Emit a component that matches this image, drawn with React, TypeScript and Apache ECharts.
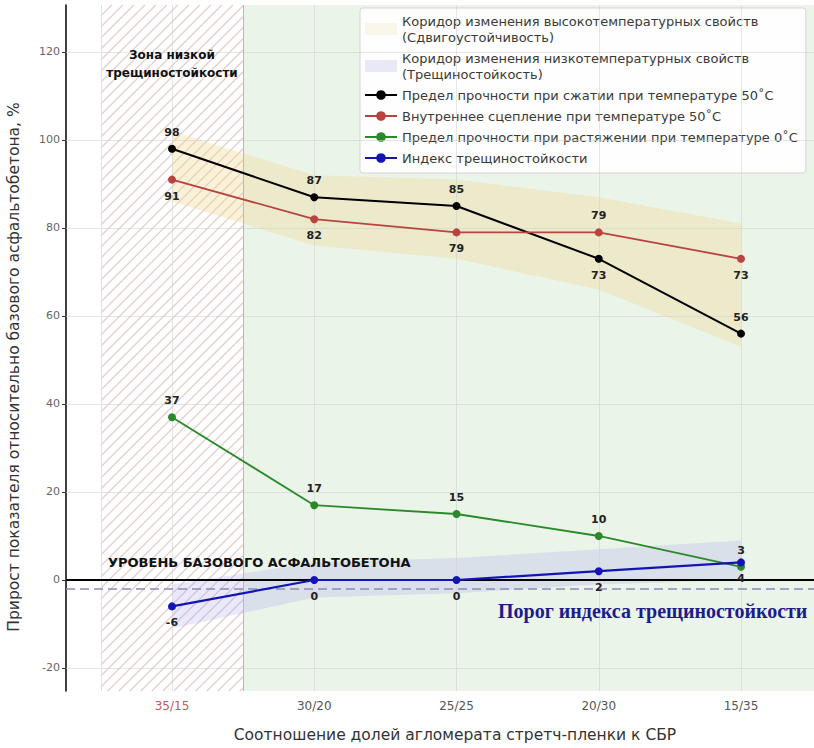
import React, { useEffect, useRef } from 'react';
import * as echarts from 'echarts';

const categories = ['35/15', '30/20', '25/25', '20/30', '15/35'];
const compression50 = [98, 87, 85, 73, 56];
const cohesion50 = [91, 82, 79, 79, 73];
const tensile0 = [37, 17, 15, 10, 3];
const crackIndex = [-6, 0, 0, 2, 4];
const highCorridorUpper = [102, 92, 91, 87, 81];
const highCorridorLower = [86, 76, 73, 66, 53];
const lowCorridorUpper = [-1, 4, 5, 7, 9];
const lowCorridorLower = [-11, -4, -3, -1, 0];
const yTicks = [-20, 0, 20, 40, 60, 80, 100, 120];
const xTicks = [0, 1, 2, 3, 4];
const compressionLabelPos = ['top', 'top', 'top', 'bottom', 'top'];
const cohesionLabelPos = ['bottom', 'bottom', 'bottom', 'top', 'bottom'];
const tensileLabelPos = ['top', 'top', 'top', 'top', 'top'];
const crackLabelPos = ['bottom', 'bottom', 'bottom', 'bottom', 'bottom'];
const baseLevel = 0;
const crackThreshold = -2;
const lowZone = [-0.5, 0.5];

const X_MIN = -0.745;
const X_MAX = 4.513;
const Y_MIN = -25.23;
const Y_MAX = 130.68;

const NAME_HIGH = 'Коридор изменения высокотемпературных свойств\n(Сдвигоустойчивость)';
const NAME_LOW = 'Коридор изменения низкотемпературных свойств\n(Трещиностойкость)';
const NAME_COMP = 'Предел прочности при сжатии при температуре 50˚C';
const NAME_COH = 'Внутреннее сцепление при температуре 50˚C';
const NAME_TENS = 'Предел прочности при растяжении при температуре 0˚C';
const NAME_CRACK = 'Индекс трещиностойкости';

const FONT = 'DejaVu Sans';

function bandSeries(name: string, upper: number[], lower: number[], color: string, z: number) {
  return {
    name,
    type: 'custom',
    z,
    silent: true,
    itemStyle: { color },
    data: upper.map((v, i) => [i, lower[i], v]),
    encode: { x: 0, y: [1, 2] },
    renderItem: (params: any, api: any) => {
      if (params.dataIndex !== 0) return null;
      const top = upper.map((v, i) => api.coord([i, v]));
      const bottom = lower.map((v, i) => api.coord([i, v])).reverse();
      return {
        type: 'polygon',
        shape: { points: [...top, ...bottom] },
        style: { fill: color },
        silent: true,
      };
    },
  };
}

function lineSeries(name: string, values: number[], color: string, positions: string[], width: number) {
  return {
    name,
    type: 'line',
    z: 5,
    symbol: 'circle',
    symbolSize: 8,
    itemStyle: { color },
    lineStyle: { color, width },
    data: values.map((v, i) => ({
      value: [i, v],
      label: { position: positions[i] },
    })),
    label: {
      show: true,
      distance: 7,
      fontSize: 11,
      fontWeight: 'bold',
      color: '#222',
      fontFamily: FONT,
      formatter: (p: any) => String(p.value[1]),
    },
  };
}

export default function App() {
  const ref = useRef<HTMLDivElement>(null);
  useEffect(() => {
    if (!ref.current) return;
    const chart = echarts.init(ref.current, null, { renderer: 'svg' });

    const hatchSeries = {
      type: 'custom',
      z: 1,
      silent: true,
      data: [[lowZone[0], Y_MIN]],
      encode: { x: 0, y: 1 },
      renderItem: (params: any, api: any) => {
        const p1 = api.coord([lowZone[0], Y_MAX]);
        const p2 = api.coord([lowZone[1], Y_MIN]);
        const x1 = p1[0], y1 = p1[1], x2 = p2[0], y2 = p2[1];
        const children: any[] = [];
        const step = 11;
        for (let c = x1 + y1; c <= x2 + y2; c += step) {
          const xa = Math.max(x1, c - y2);
          const xb = Math.min(x2, c - y1);
          if (xb <= xa) continue;
          children.push({
            type: 'line',
            shape: { x1: xa, y1: c - xa, x2: xb, y2: c - xb },
            style: { stroke: '#e4cdcd', lineWidth: 1.2 },
            silent: true,
          });
        }
        return { type: 'group', children };
      },
    };

    const bgSeries = {
      type: 'line',
      z: 0,
      silent: true,
      data: [],
      markArea: {
        silent: true,
        itemStyle: { color: '#ebf4e9' },
        data: [[{ xAxis: lowZone[1] }, { xAxis: X_MAX }]],
      },
      markLine: {
        silent: true,
        symbol: 'none',
        label: { show: false },
        lineStyle: { color: 'rgba(205,210,205,0.55)', width: 1, type: 'solid' },
        data: [
          ...xTicks.map((v) => ({ xAxis: v })),
          ...yTicks.map((v) => ({ yAxis: v })),
          { xAxis: lowZone[0], lineStyle: { color: '#e2e2e2', width: 1, type: 'solid' } },
          { xAxis: lowZone[1], lineStyle: { color: '#b8b8b8', width: 1, type: 'solid' } },
        ],
      },
    };

    const refSeries = {
      type: 'line',
      z: 3,
      silent: true,
      data: [],
      markLine: {
        silent: true,
        symbol: 'none',
        label: { show: false },
        data: [
          { yAxis: baseLevel, lineStyle: { color: '#000', width: 2, type: 'solid' } },
          { yAxis: crackThreshold, lineStyle: { color: '#8a8ab4', width: 1.5, type: [9, 5] } },
        ],
      },
    };

    chart.setOption({
      animation: false,
      textStyle: { fontFamily: FONT },
      grid: { left: 66, right: 0, top: 5, bottom: 57, containLabel: false },
      xAxis: {
        type: 'value',
        min: X_MIN,
        max: X_MAX,
        splitLine: { show: false },
        axisLine: { show: true, lineStyle: { color: '#444', width: 1 } },
        axisTick: { show: true, customValues: xTicks, length: 4, lineStyle: { color: '#444' } },
        axisLabel: {
          customValues: xTicks,
          formatter: (v: number) => categories[Math.round(v)] ?? '',
          color: (v: any) => (Math.round(Number(v)) === 0 ? '#c25a57' : '#555'),
          fontSize: 12,
          margin: 9,
          fontFamily: FONT,
        },
      },
      yAxis: {
        type: 'value',
        min: Y_MIN,
        max: Y_MAX,
        splitLine: { show: false },
        axisLine: { show: true, onZero: false, lineStyle: { color: '#000', width: 1.5 } },
        axisTick: { show: true, customValues: yTicks, length: 4, lineStyle: { color: '#333' } },
        axisLabel: { customValues: yTicks, color: '#666', fontSize: 11, margin: 6, fontFamily: FONT },
      },
      legend: {
        data: [
          { name: NAME_HIGH, icon: 'rect', itemStyle: { color: '#faf6ea' } },
          { name: NAME_LOW, icon: 'rect', itemStyle: { color: '#e8e8f6' } },
          NAME_COMP,
          NAME_COH,
          NAME_TENS,
          NAME_CRACK,
        ],
        orient: 'vertical',
        left: 360,
        top: 8,
        padding: [5, 8, 7, 4],
        itemGap: 5,
        itemWidth: 32,
        itemHeight: 12,
        backgroundColor: 'rgba(255,255,255,0.88)',
        borderColor: '#d4d4d4',
        borderWidth: 1,
        borderRadius: 3,
        selectedMode: false,
        textStyle: { fontSize: 13, color: '#3a3a3a', lineHeight: 16, fontFamily: FONT },
      },
      series: [
        bgSeries,
        hatchSeries,
        bandSeries(NAME_HIGH, highCorridorUpper, highCorridorLower, 'rgba(240,215,150,0.36)', 2),
        bandSeries(NAME_LOW, lowCorridorUpper, lowCorridorLower, 'rgba(165,165,240,0.24)', 2),
        refSeries,
        lineSeries(NAME_COMP, compression50, '#000000', compressionLabelPos, 2),
        lineSeries(NAME_COH, cohesion50, '#b8433f', cohesionLabelPos, 1.8),
        lineSeries(NAME_TENS, tensile0, '#2a8a2a', tensileLabelPos, 1.8),
        lineSeries(NAME_CRACK, crackIndex, '#1414b4', crackLabelPos, 2.2),
      ],
      graphic: [
        {
          type: 'text',
          x: 172,
          y: 64,
          z: 10,
          style: {
            text: 'Зона низкой\nтрещиностойкости',
            textAlign: 'center',
            textVerticalAlign: 'middle',
            font: `bold 12px "${FONT}"`,
            lineHeight: 18,
            fill: '#111',
          },
        },
        {
          type: 'text',
          x: 108,
          y: 562,
          z: 10,
          style: {
            text: 'УРОВЕНЬ БАЗОВОГО АСФАЛЬТОБЕТОНА',
            textAlign: 'left',
            textVerticalAlign: 'middle',
            font: `bold 13px "${FONT}"`,
            fill: '#111',
          },
        },
        {
          type: 'text',
          x: 498,
          y: 611,
          z: 10,
          style: {
            text: 'Порог индекса трещиностойкости',
            textAlign: 'left',
            textVerticalAlign: 'middle',
            font: 'bold 20px "Liberation Serif"',
            fill: '#1c1c8e',
          },
        },
        {
          type: 'text',
          x: 455,
          y: 735,
          z: 10,
          style: {
            text: 'Соотношение долей агломерата стретч-пленки к СБР',
            textAlign: 'center',
            textVerticalAlign: 'middle',
            font: `15.5px "${FONT}"`,
            fill: '#333',
          },
        },
        {
          type: 'text',
          x: 14,
          y: 367,
          z: 10,
          rotation: Math.PI / 2,
          style: {
            text: 'Прирост показателя относительно базового асфальтобетона, %',
            textAlign: 'center',
            textVerticalAlign: 'middle',
            font: `15.5px "${FONT}"`,
            fill: '#333',
          },
        },
      ],
    });
    return () => chart.dispose();
  }, []);
  return (
    <div
      ref={ref}
      style={{ position: 'fixed', left: 0, top: 0, width: 814, height: 748, background: '#fff' }}
    />
  );
}
